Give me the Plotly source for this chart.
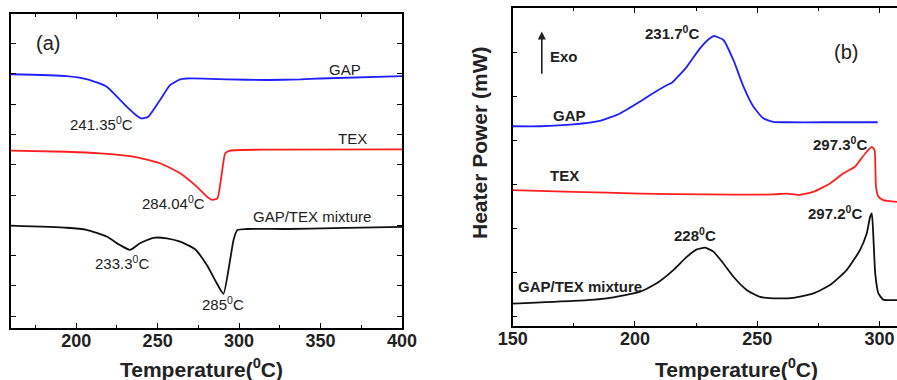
import plotly.graph_objects as go

# ---------------- Panel (a) data ----------------
gap_a_T = [160, 194.1, 206.4, 218.7, 231, 237, 240.2, 244.3, 251.5, 257.6, 263.8, 267.9, 282.2, 292.5, 317.1, 337.6, 349.9, 400]
gap_a_y = [7.99, 7.93, 7.83, 7.58, 6.92, 6.63, 6.53, 6.59, 7.14, 7.63, 7.82, 7.85, 7.84, 7.82, 7.80, 7.82, 7.85, 7.93]

tex_a_T = [160, 194.1, 214.6, 235.1, 251.5, 263.8, 274.0, 280.2, 283.6, 286.7, 289.4, 291.5, 294.5, 320, 400]
tex_a_y = [5.47, 5.43, 5.38, 5.27, 5.05, 4.72, 4.28, 3.95, 3.84, 3.89, 4.72, 5.38, 5.47, 5.50, 5.51]

mix_a_T = [160, 194.1, 206.4, 218.7, 226.9, 233.0, 239.2, 247.4, 255.6, 263.8, 273.0, 280.2, 286.3, 290.4, 294.5, 296.6, 299.0, 304.8, 329.4, 358.1, 400]
mix_a_y = [2.99, 2.92, 2.85, 2.63, 2.35, 2.19, 2.41, 2.59, 2.57, 2.46, 2.21, 1.69, 1.09, 0.74, 1.86, 2.52, 2.85, 2.88, 2.88, 2.91, 2.95]

# ---------------- Panel (b) data ----------------
gap_b_T = [150, 161.2, 174.8, 185.7, 193.9, 202.1, 208.9, 214.0, 215.0, 221.2, 226.6, 230.7, 232.3, 236.2, 240.3, 244.4, 248.5, 252.5, 256.6, 262.1, 277.1, 299.3]
gap_b_y = [4.33, 4.33, 4.37, 4.45, 4.62, 4.89, 5.13, 5.29, 5.31, 5.68, 6.10, 6.33, 6.38, 6.29, 5.83, 5.23, 4.77, 4.51, 4.43, 4.42, 4.42, 4.42]

tex_b_T = [150, 174.8, 202.1, 229.4, 256.6, 262.1, 266.9, 273.0, 279.8, 285.3, 290.0, 292.1, 294.8, 296.9, 298.0, 298.6, 299.6, 301.6, 307.2]
tex_b_y = [2.88, 2.84, 2.80, 2.78, 2.78, 2.80, 2.77, 2.84, 3.03, 3.26, 3.41, 3.56, 3.75, 3.86, 3.79, 2.95, 2.73, 2.65, 2.61]

mix_b_T = [150, 174.8, 188.5, 202.1, 208.9, 215.7, 221.2, 225.3, 228.7, 232.1, 236.2, 240.3, 245.7, 251.2, 256.6, 264.8, 273.0, 279.8, 286.6, 292.1, 294.8, 296.2, 296.9, 297.6, 298.3, 299.6, 301.6, 307.2]
mix_b_y = [0.30, 0.36, 0.42, 0.57, 0.76, 1.06, 1.36, 1.53, 1.57, 1.48, 1.21, 0.91, 0.61, 0.45, 0.42, 0.43, 0.53, 0.72, 1.06, 1.52, 1.89, 2.27, 2.35, 1.74, 0.98, 0.53, 0.39, 0.38]

x_ticks_a = [200, 250, 300, 350, 400]
x_ticks_b = [150, 200, 250, 300]

BLUE = "#1f1fff"
RED = "#ff1f1f"
BLACK = "#111111"
FONT = "Liberation Sans, Arial, sans-serif"

fig = go.Figure()
for T, y, c in [(gap_a_T, gap_a_y, BLUE), (tex_a_T, tex_a_y, RED), (mix_a_T, mix_a_y, BLACK)]:
    fig.add_trace(go.Scatter(x=T, y=y, mode="lines", xaxis="x", yaxis="y",
                             line=dict(color=c, width=1.8, shape="spline", smoothing=0.5),
                             showlegend=False, hoverinfo="skip", cliponaxis=False))
for T, y, c in [(gap_b_T, gap_b_y, BLUE), (tex_b_T, tex_b_y, RED), (mix_b_T, mix_b_y, BLACK)]:
    fig.add_trace(go.Scatter(x=T, y=y, mode="lines", xaxis="x2", yaxis="y2",
                             line=dict(color=c, width=1.8, shape="spline", smoothing=0.5),
                             showlegend=False, hoverinfo="skip"))

W, H = 897, 380
axcommon = dict(showline=True, linecolor="black", linewidth=1.5, showgrid=False, zeroline=False,
                ticks="inside", ticklen=5, tickwidth=1.2, tickcolor="black", automargin=False)
tickfont = dict(family=FONT, size=18, color="#222222", weight="bold")

fig.update_layout(
    width=W, height=H, margin=dict(l=0, r=0, t=0, b=0, autoexpand=False),
    paper_bgcolor="white", plot_bgcolor="white",
    xaxis=dict(domain=[11 / W, 402 / W], range=[160, 400], anchor="y", tickvals=x_ticks_a,
               mirror="ticks", tickfont=tickfont, ticklabeloverflow="allow", ticklabelstandoff=-4,
               minor=dict(ticks="inside", ticklen=3, tickcolor="black", dtick=25, tick0=0),
               **axcommon),
    yaxis=dict(domain=[(H - 328) / H, (H - 14) / H], range=[-0.39, 9.98], anchor="x",
               tick0=0, dtick=1, showticklabels=False, mirror="ticks", **axcommon),
    xaxis2=dict(domain=[512.7 / W, 1.0], range=[150, 307.2], anchor="y2", tickvals=x_ticks_b,
                mirror="ticks", tickfont=tickfont, ticklabeloverflow="allow", ticklabelstandoff=-4,
                minor=dict(ticks="inside", ticklen=3, tickcolor="black", dtick=25, tick0=0),
                **axcommon),
    yaxis2=dict(domain=[(H - 326) / H, (H - 8.3) / H], range=[-0.21, 7.01], anchor="x2",
                tick0=0, dtick=1, showticklabels=False, mirror=False, **axcommon),
)

def ann(x, y, text, xref, yref, size=15, bold=False, color="#222222", **kw):
    kw.setdefault("xanchor", "center")
    kw.setdefault("yanchor", "middle")
    fig.add_annotation(x=x, y=y, xref=xref, yref=yref, text=text, showarrow=False,
                       font=dict(family=FONT, size=size, color=color,
                                 weight="bold" if bold else "normal"), **kw)

# Panel (a) labels
ann(182.6, 9.02, "(a)", "x", "y", size=20)
ann(365.3, 8.16, "GAP", "x", "y", size=15)
ann(215.8, 6.38, "241.35<sup>0</sup>C", "x", "y", size=15)
ann(369.6, 5.88, "TEX", "x", "y", size=15)
ann(259.5, 3.74, "284.04<sup>0</sup>C", "x", "y", size=15)
ann(345.0, 3.28, "GAP/TEX mixture", "x", "y", size=15)
ann(228.1, 1.76, "233.3<sup>0</sup>C", "x", "y", size=15)
ann(290.2, 0.41, "285<sup>0</sup>C", "x", "y", size=15)

# Panel (b) labels
ann(215.3, 6.45, "231.7<sup>0</sup>C", "x2", "y2", size=15, bold=True)
ann(164.3, 5.91, "Exo", "x2", "y2", size=15, bold=True, xanchor="left")
ann(286.4, 6.02, "(b)", "x2", "y2", size=20)
ann(173.4, 4.58, "GAP", "x2", "y2", size=15, bold=True)
ann(284.0, 3.94, "297.3<sup>0</sup>C", "x2", "y2", size=15, bold=True)
ann(171.0, 3.20, "TEX", "x2", "y2", size=15, bold=True)
ann(281.9, 2.36, "297.2<sup>0</sup>C", "x2", "y2", size=15, bold=True)
ann(224.6, 1.86, "228<sup>0</sup>C", "x2", "y2", size=15, bold=True)
ann(177.5, 0.68, "GAP/TEX mixture", "x2", "y2", size=15, bold=True)

# Exo arrow
fig.add_annotation(x=161.9, y=6.48, ax=161.9, ay=5.49, xref="x2", yref="y2", axref="x2", ayref="y2",
                   text="", showarrow=True, arrowhead=2, arrowsize=1, arrowwidth=1.6, arrowcolor="#222222")

# Axis titles
ann(201 / W, (H - 368) / H, "Temperature(<sup>0</sup>C)", "paper", "paper", size=21, bold=True)
ann(736 / W, (H - 368) / H, "Temperature(<sup>0</sup>C)", "paper", "paper", size=21, bold=True)
ann(480 / W, (H - 143) / H, "Heater Power (mW)", "paper", "paper", size=21, bold=True, textangle=-90)

fig.write_html("out.html")
